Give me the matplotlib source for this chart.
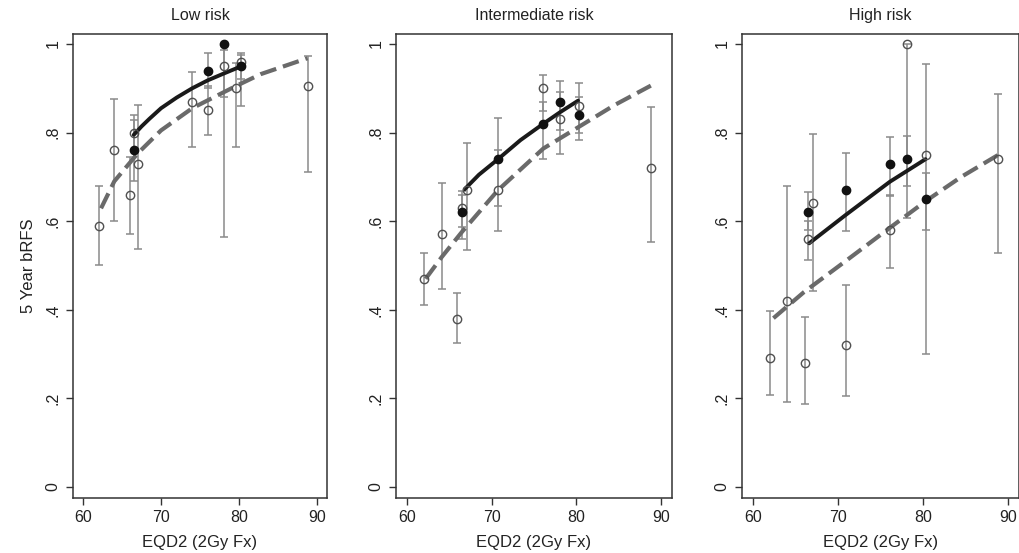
import matplotlib
matplotlib.use("Agg")
import matplotlib.pyplot as plt

plt.rcParams['font.family'] = ['Liberation Sans', 'DejaVu Sans']

titles = ["Low risk", "Intermediate risk", "High risk"]
x_ticks = [60, 70, 80, 90]
y_ticks = [0, 0.2, 0.4, 0.6, 0.8, 1.0]
y_ticklabels = ["0", ".2", ".4", ".6", ".8", "1"]

# ---- Low risk ----
low_open_x = [62, 64, 66, 66.5, 67.1, 74, 76, 78.1, 79.6, 80.3, 88.8]
low_open_y = [0.59, 0.76, 0.66, 0.80, 0.73, 0.87, 0.85, 0.95, 0.90, 0.96, 0.905]
low_open_lo = [0.50, 0.60, 0.57, 0.76, 0.537, 0.768, 0.794, 0.565, 0.768, 0.86, 0.711]
low_open_hi = [0.679, 0.876, 0.744, 0.839, 0.862, 0.937, 0.905, 0.986, 0.958, 0.98, 0.974]
low_fill_x = [66.5, 76, 78.1, 80.2]
low_fill_y = [0.76, 0.94, 1.0, 0.95]
low_fill_lo = [0.69, 0.90, 0.88, 0.92]
low_fill_hi = [0.828, 0.979, 1.0, 0.975]
low_solid_x = [66.5, 67.5, 68.5, 70, 72, 74, 76, 78, 80.2]
low_solid_y = [0.795, 0.814, 0.831, 0.855, 0.879, 0.90, 0.918, 0.933, 0.949]
low_dash_x = [62.3, 64, 67, 70, 74, 79.6, 82.8, 88.8]
low_dash_y = [0.629, 0.69, 0.753, 0.805, 0.855, 0.905, 0.932, 0.968]

# ---- Intermediate risk ----
int_open_x = [62, 64.1, 65.9, 66.5, 67.1, 70.75, 76.1, 78.05, 80.3, 88.8]
int_open_y = [0.47, 0.57, 0.38, 0.63, 0.67, 0.67, 0.90, 0.83, 0.86, 0.72]
int_open_lo = [0.41, 0.448, 0.324, 0.586, 0.534, 0.578, 0.849, 0.751, 0.783, 0.553]
int_open_hi = [0.529, 0.687, 0.437, 0.668, 0.776, 0.76, 0.93, 0.891, 0.913, 0.857]
int_fill_x = [66.5, 70.75, 76.1, 78.05, 80.3]
int_fill_y = [0.62, 0.74, 0.82, 0.87, 0.84]
int_fill_lo = [0.56, 0.635, 0.74, 0.806, 0.80]
int_fill_hi = [0.66, 0.832, 0.87, 0.917, 0.88]
int_solid_x = [66.8, 68.5, 70.75, 73.4, 76.1, 78, 80.2]
int_solid_y = [0.672, 0.705, 0.74, 0.783, 0.82, 0.845, 0.872]
int_dash_x = [62.2, 64.1, 66.5, 70.75, 76.1, 80.3, 84.5, 88.8]
int_dash_y = [0.47, 0.519, 0.576, 0.67, 0.764, 0.813, 0.862, 0.906]

# ---- High risk ----
high_open_x = [62, 64, 66.1, 66.5, 67.1, 70.9, 76.1, 78.1, 80.3, 88.8]
high_open_y = [0.29, 0.42, 0.28, 0.56, 0.64, 0.32, 0.58, 1.0, 0.75, 0.74]
high_open_lo = [0.207, 0.192, 0.188, 0.512, 0.443, 0.205, 0.494, 0.608, 0.30, 0.529]
high_open_hi = [0.397, 0.679, 0.384, 0.60, 0.797, 0.455, 0.66, 1.0, 0.955, 0.887]
high_fill_x = [66.5, 70.9, 76.1, 78.1, 80.3]
high_fill_y = [0.62, 0.67, 0.73, 0.74, 0.65]
high_fill_lo = [0.58, 0.578, 0.657, 0.679, 0.581]
high_fill_hi = [0.665, 0.754, 0.789, 0.792, 0.708]
high_solid_x = [66.6, 70.9, 76.1, 80.3]
high_solid_y = [0.55, 0.614, 0.689, 0.74]
high_dash_x = [62.4, 66, 70.9, 76.1, 80.3, 84.5, 88.8]
high_dash_y = [0.381, 0.44, 0.51, 0.585, 0.645, 0.70, 0.749]

panels = [
    (low_open_x, low_open_y, low_open_lo, low_open_hi,
     low_fill_x, low_fill_y, low_fill_lo, low_fill_hi,
     low_solid_x, low_solid_y, low_dash_x, low_dash_y),
    (int_open_x, int_open_y, int_open_lo, int_open_hi,
     int_fill_x, int_fill_y, int_fill_lo, int_fill_hi,
     int_solid_x, int_solid_y, int_dash_x, int_dash_y),
    (high_open_x, high_open_y, high_open_lo, high_open_hi,
     high_fill_x, high_fill_y, high_fill_lo, high_fill_hi,
     high_solid_x, high_solid_y, high_dash_x, high_dash_y),
]

W, H = 1020, 553
fig = plt.figure(figsize=(W / 100, H / 100), dpi=100)
boxes = [(73, 327), (396, 672), (742, 1019)]
top_px, bot_px = 34, 498

ERR_C = '#8a8a8a'
for i, ((ox, oy, olo, ohi, fx, fy, flo, fhi, sx, sy, dx, dy), (l, r)) in enumerate(zip(panels, boxes)):
    ax = fig.add_axes([l / W, 1 - bot_px / H, (r - l) / W, (bot_px - top_px) / H])
    ax.errorbar(ox, oy, yerr=[[y - lo for y, lo in zip(oy, olo)], [hi - y for y, hi in zip(oy, ohi)]],
                fmt='none', ecolor=ERR_C, elinewidth=1.1, capsize=3.2, capthick=1.1, zorder=2)
    ax.errorbar(fx, fy, yerr=[[y - lo for y, lo in zip(fy, flo)], [hi - y for y, hi in zip(fy, fhi)]],
                fmt='none', ecolor=ERR_C, elinewidth=1.1, capsize=3.2, capthick=1.1, zorder=2)
    ax.plot(dx, dy, color='#6a6a6a', lw=3.0, dashes=(4.0, 1.7), zorder=3, solid_capstyle='butt')
    ax.plot(sx, sy, color='#1a1a1a', lw=2.8, zorder=4, solid_capstyle='round', solid_joinstyle='round')
    ax.plot(ox, oy, 'o', ms=6, mfc='none', mec='#505050', mew=1.0, zorder=5)
    ax.plot(fx, fy, 'o', ms=6, mfc='#111111', mec='#111111', mew=1.0, zorder=6)

    ax.set_xlim(58.7, 91.3)
    ax.set_ylim(-0.025, 1.0226)
    ax.set_xticks(x_ticks)
    ax.set_xticklabels([str(t) for t in x_ticks])
    ax.set_yticks(y_ticks)
    ax.set_yticklabels(y_ticklabels, rotation=90, va='center')
    ax.tick_params(axis='both', direction='out', length=5, width=1, color='#333333',
                   labelsize=11.5, labelcolor='#222222', pad=4)
    for s in ax.spines.values():
        s.set_color('#333333')
        s.set_linewidth(1.1)
    ax.set_title(titles[i], fontsize=11.5, color='#222222', pad=10)
    ax.set_xlabel("EQD2 (2Gy Fx)", fontsize=12, color='#222222', labelpad=7)
    if i == 0:
        ax.set_ylabel("5 Year bRFS", fontsize=12, color='#222222', labelpad=7)

fig.savefig("out.png", dpi=100)
